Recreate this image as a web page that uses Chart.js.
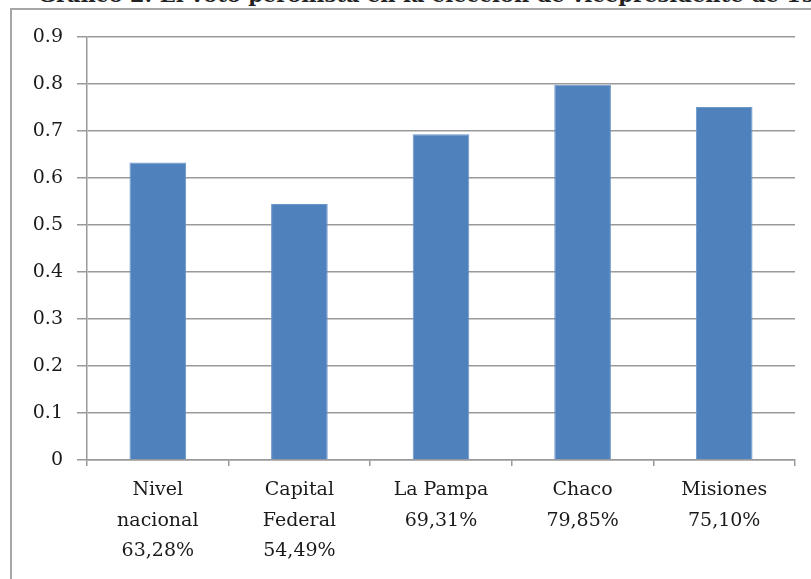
<!DOCTYPE html>
<html>
<head>
<meta charset="utf-8">
<script src="https://cdn.jsdelivr.net/npm/chart.js@4.4.0/dist/chart.umd.min.js"></script>
<style>
  html, body { margin: 0; padding: 0; background: #fff; overflow: hidden; }
  #wrap { position: relative; width: 811px; height: 579px; overflow: hidden; }
  #title { position: absolute; left: 38px; top: -16px; white-space: nowrap;
           font: bold 21px "DejaVu Serif", serif; line-height: 21px; color: #222; }
  canvas { position: absolute; left: 0; top: 0; }
</style>
</head>
<body>
<div id="wrap">
  <div id="title">Gráfico 2: El voto peronista en la elección de vicepresidente de 1973</div>
  <canvas id="c" width="811" height="579"></canvas>
</div>
<script>
const categories = [
  ["Nivel", "nacional", "63,28%"],
  ["Capital", "Federal", "54,49%"],
  ["La Pampa", "69,31%"],
  ["Chaco", "79,85%"],
  ["Misiones", "75,10%"]
];
const values = [0.6328, 0.5449, 0.6931, 0.7985, 0.7510];
const yTicks = [0, 0.1, 0.2, 0.3, 0.4, 0.5, 0.6, 0.7, 0.8, 0.9];

const frame = {
  id: 'frame',
  beforeDraw(chart) {
    const ctx = chart.ctx;
    ctx.save();
    ctx.strokeStyle = '#a6a6a6';
    ctx.lineWidth = 2;
    ctx.strokeRect(11, 9, 900, 700);
    ctx.restore();
  }
};

new Chart(document.getElementById('c'), {
  type: 'bar',
  data: {
    labels: categories,
    datasets: [{
      data: values,
      backgroundColor: '#4f81bd',
      borderColor: '#6b96c8',
      borderWidth: 1,
      barPercentage: 0.8,
      categoryPercentage: 0.5
    }]
  },
  options: {
    responsive: false,
    animation: false,
    events: [],
    layout: { padding: { left: 0, right: 16, top: 37, bottom: 0 } },
    plugins: { legend: { display: false }, tooltip: { enabled: false } },
    scales: {
      x: {
        offset: true,
        grid: { offset: true, drawOnChartArea: false, color: '#9a9a9a', lineWidth: 1.5, tickLength: 6 },
        border: { color: '#9a9a9a', width: 1.5 },
        ticks: { color: '#1a1a1a', font: { family: 'DejaVu Serif', size: 19, lineHeight: 1.6 }, padding: 9, maxRotation: 0, autoSkip: false },
        afterFit(s) { s.height = 579 - 460; }
      },
      y: {
        min: 0, max: 0.9,
        afterBuildTicks(s) { s.ticks = yTicks.map(v => ({ value: v })); },
        grid: { color: '#9a9a9a', lineWidth: 1.5, tickLength: 10 },
        border: { color: '#9a9a9a', width: 1.5 },
        ticks: { color: '#1a1a1a', font: { family: 'DejaVu Serif', size: 19 }, padding: 14,
                 callback: v => (v === 0 ? '0' : v.toFixed(1)) },
        afterFit(s) { s.width = 87; }
      }
    }
  },
  plugins: [frame]
});
</script>
</body>
</html>
